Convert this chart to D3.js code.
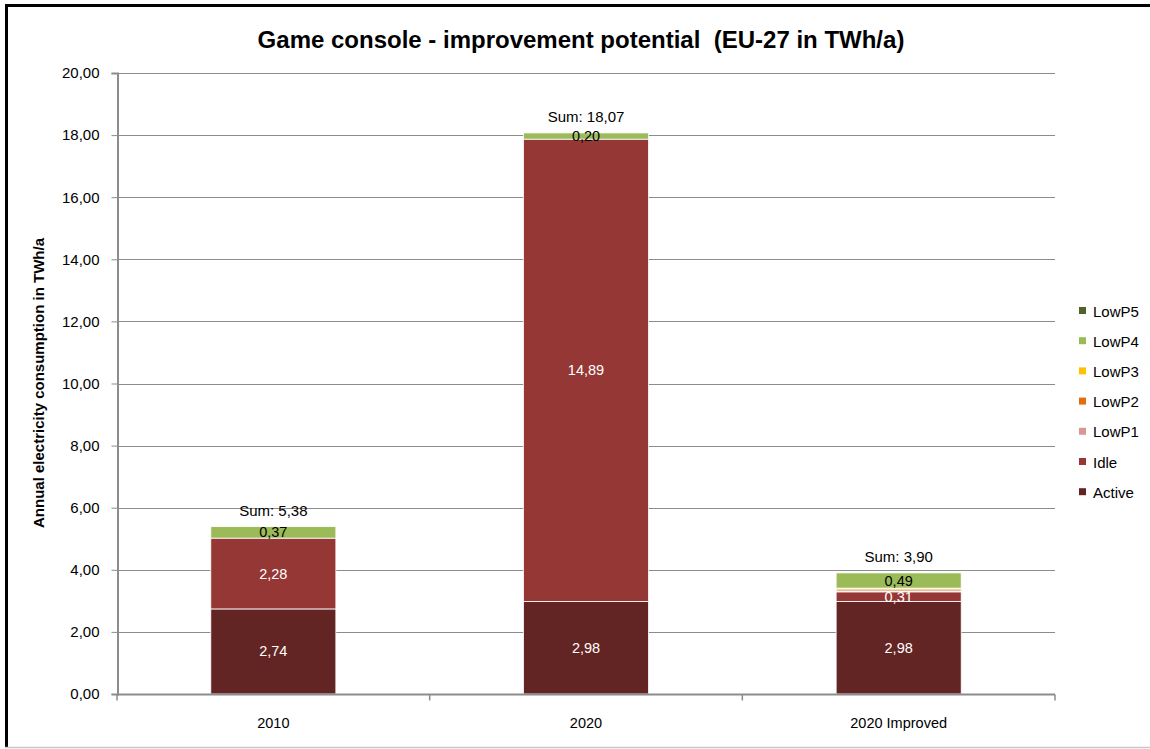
<html><head>
<script src="https://d3js.org/d3.v7.min.js"></script>
<style>
  body { margin: 0; background: #fff; }
  text { font-family: "Liberation Sans", Arial, sans-serif; }
</style>
</head>
<body>
<svg id="chart" width="1150" height="749"></svg>
<script>
  // data
  const categories = ["2010", "2020", "2020 Improved"];
  const seriesNames = ["Active", "Idle", "LowP1", "LowP2", "LowP3", "LowP4", "LowP5"];
  const active = [2.74, 2.98, 2.98];
  const idle   = [2.28, 14.89, 0.31];
  const lowP1  = [0, 0, 0.03];
  const lowP2  = [0, 0, 0.06];
  const lowP3  = [0, 0, 0.03];
  const lowP4  = [0.37, 0.20, 0.49];
  const lowP5  = [0, 0, 0];
  const sums   = ["5,38", "18,07", "3,90"];
  const colors = ["#632523", "#953735", "#D99694", "#E46C0A", "#FFC000", "#9BBB59", "#4F6228"];
  const labelColors = ["white", "white", "black", "black", "black", "black", "white"];
  const yTicks = [0, 2, 4, 6, 8, 10, 12, 14, 16, 18, 20];

  const svg = d3.select("svg#chart");
  const W = +svg.attr("width");

  // frame
  svg.append("line").attr("x1", 5).attr("x2", W).attr("y1", 5.5).attr("y2", 5.5)
     .attr("stroke", "black").attr("stroke-width", 3);
  svg.append("line").attr("x1", 6.5).attr("x2", 6.5).attr("y1", 4).attr("y2", 747)
     .attr("stroke", "black").attr("stroke-width", 3);
  svg.append("line").attr("x1", 5).attr("x2", W).attr("y1", 747.5).attr("y2", 747.5)
     .attr("stroke", "#c8c8c8").attr("stroke-width", 1.5);

  const table = categories.map((c, i) => ({
    cat: c, Active: active[i], Idle: idle[i], LowP1: lowP1[i], LowP2: lowP2[i],
    LowP3: lowP3[i], LowP4: lowP4[i], LowP5: lowP5[i], sum: sums[i]
  }));

  const x = d3.scaleBand().domain(categories).range([117, 1055])
              .paddingInner(0.6).paddingOuter(0.3);
  const y = d3.scaleLinear().domain([0, 20]).range([694, 73]);

  // grid
  svg.append("g").selectAll("line").data(yTicks.slice(1)).join("line")
     .attr("x1", 117).attr("x2", 1055)
     .attr("y1", d => Math.round(y(d)) + 0.5).attr("y2", d => Math.round(y(d)) + 0.5)
     .attr("stroke", "#8c8c8c").attr("stroke-width", 1);

  const fmt = v => d3.format(".2f")(v).replace(".", ",");

  // y axis
  const yAxis = svg.append("g").attr("transform", "translate(117.5,0)")
     .call(d3.axisLeft(y).tickValues(yTicks).tickFormat(fmt).tickSize(6).tickPadding(12));
  yAxis.select(".domain").attr("stroke", "#8c8c8c").attr("stroke-width", 2);
  yAxis.selectAll(".tick line").attr("stroke", "#8c8c8c");
  yAxis.selectAll(".tick text").attr("font-size", 15).attr("fill", "black")
       .style("font-family", "'Liberation Sans', Arial, sans-serif");

  // bars
  const stack = d3.stack().keys(seriesNames)(table);
  const layers = svg.append("g").selectAll("g").data(stack).join("g")
     .attr("fill", (d, i) => colors[i]);
  layers.selectAll("rect").data(d => d).join("rect")
     .attr("x", d => x(d.data.cat))
     .attr("width", x.bandwidth())
     .attr("y", d => y(d[1]))
     .attr("height", d => y(d[0]) - y(d[1]))
     .attr("stroke", d => (d[1] - d[0]) > 0 ? "white" : "none")
     .attr("stroke-width", 0.8);

  // x axis
  const xAxis = svg.append("g").attr("transform", "translate(0,694.5)");
  xAxis.append("line").attr("x1", 117).attr("x2", 1055).attr("stroke", "#8c8c8c").attr("stroke-width", 2);
  xAxis.selectAll("line.sep").data([0, 1, 2, 3]).join("line").attr("class", "sep")
     .attr("x1", i => 117 + i * x.step()).attr("x2", i => 117 + i * x.step())
     .attr("y1", 0).attr("y2", 6).attr("stroke", "#8c8c8c").attr("stroke-width", 1.5);
  xAxis.selectAll("text").data(categories).join("text")
     .attr("x", d => x(d) + x.bandwidth() / 2).attr("y", 33)
     .attr("text-anchor", "middle").attr("font-size", 14.5).text(d => d);

  // segment labels
  stack.forEach((layer, si) => {
    layer.forEach(d => {
      const v = d[1] - d[0];
      if (v < 0.1) return;
      svg.append("text")
         .attr("x", x(d.data.cat) + x.bandwidth() / 2)
         .attr("y", (y(d[0]) + y(d[1])) / 2 + 5)
         .attr("text-anchor", "middle").attr("font-size", 14.5)
         .attr("fill", labelColors[si]).text(fmt(v));
    });
  });

  // sum labels
  svg.append("g").selectAll("text").data(stack[stack.length - 1]).join("text")
     .attr("x", d => x(d.data.cat) + x.bandwidth() / 2)
     .attr("y", d => y(d[1]) - 11)
     .attr("text-anchor", "middle").attr("font-size", 15)
     .text(d => "Sum: " + d.data.sum);

  // title
  svg.append("text").attr("x", 581).attr("y", 48).attr("text-anchor", "middle")
     .attr("font-size", 24).attr("font-weight", "bold")
     .style("white-space", "pre")
     .text("Game console - improvement potential  (EU-27 in TWh/a)");

  // y label
  svg.append("text").attr("transform", "translate(44,383) rotate(-90)")
     .attr("text-anchor", "middle").attr("font-size", 15).attr("font-weight", "bold")
     .text("Annual electricity consumption in TWh/a");

  // legend
  const legend = svg.append("g").selectAll("g").data(seriesNames.slice().reverse()).join("g")
     .attr("transform", (d, i) => `translate(1079,${311 + i * 30.2})`);
  legend.append("rect").attr("x", 0).attr("y", -4).attr("width", 7).attr("height", 7)
     .attr("fill", d => colors[seriesNames.indexOf(d)]);
  legend.append("text").attr("x", 14).attr("y", 5.5).attr("font-size", 15).text(d => d);
</script>
</body>
</html>
